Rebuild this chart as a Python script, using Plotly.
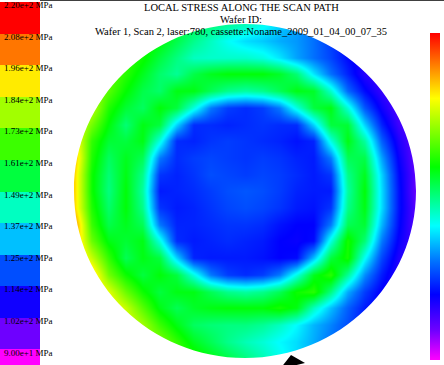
import plotly.graph_objects as go

W, H = 444, 365

# ---- data ----
legend_values = [220, 208, 196, 184, 173, 161, 149, 137, 125, 114, 102, 90]
legend_labels = ["2.20e+2 MPa", "2.08e+2 MPa", "1.96e+2 MPa", "1.84e+2 MPa",
                 "1.73e+2 MPa", "1.61e+2 MPa", "1.49e+2 MPa", "1.37e+2 MPa",
                 "1.25e+2 MPa", "1.14e+2 MPa", "1.02e+2 MPa", "9.00e+1 MPa"]

grid_u = [-1.0, -0.9, -0.8, -0.7, -0.6, -0.5, -0.4, -0.3, -0.2, -0.1, 0.0,
          0.1, 0.2, 0.3, 0.4, 0.5, 0.6, 0.7, 0.8, 0.9, 1.0]
grid_v = [1.0, 0.9, 0.8, 0.7, 0.6, 0.5, 0.4, 0.3, 0.2, 0.1, 0.0,
          -0.1, -0.2, -0.3, -0.4, -0.5, -0.6, -0.7, -0.8, -0.9, -1.0]

# stress (MPa), rows from top of wafer (v=1) to bottom (v=-1)
stress = [
    [175,173,171,169,167,165,162,159,156,153,150,145,139,134,129,125,120,117,114,111,108],
    [177,175,173,171,169,166,160,154,149,144,140,138,135,133,129,123,118,115,111,108,107],
    [180,178,175,173,168,161,155,149,148,148,148,146,141,134,129,124,117,112,108,107,107],
    [183,181,178,171,164,157,153,160,164,166,166,166,163,156,141,129,120,111,107,107,106],
    [186,184,176,167,160,157,165,165,159,154,152,154,159,165,163,148,128,117,109,106,105],
    [189,187,170,162,158,166,161,146,130,123,121,123,130,146,161,165,147,126,114,105,105],
    [193,179,166,156,165,161,139,121,121,120,121,122,121,121,139,161,162,139,120,108,104],
    [197,172,162,161,165,146,121,120,122,123,122,121,120,118,120,146,165,152,127,112,103],
    [201,170,158,164,159,130,121,123,124,123,122,123,122,120,119,130,159,160,134,115,102],
    [198,168,156,165,154,122,120,122,125,124,123,124,123,121,119,122,154,164,139,117,103],
    [198,168,155,166,152,119,120,121,123,125,126,125,123,120,119,119,152,166,140,118,102],
    [198,170,157,166,154,122,119,120,122,124,125,124,122,119,118,122,154,165,140,118,104],
    [206,173,160,164,159,130,120,120,121,122,122,121,118,116,116,130,159,162,136,117,104],
    [204,178,165,162,165,146,121,119,120,121,120,119,116,115,117,146,169,156,130,115,106],
    [203,188,172,159,165,161,139,120,119,119,119,118,116,117,137,161,169,144,124,112,107],
    [201,200,179,168,161,166,161,146,130,123,121,123,130,146,164,171,153,132,119,110,109],
    [200,199,191,178,168,161,165,165,159,154,152,154,159,168,171,155,135,123,115,111,110],
    [198,197,196,188,176,165,159,163,165,166,166,166,169,165,149,137,127,119,114,113,112],
    [197,196,195,192,184,173,165,158,156,155,155,153,149,143,136,131,125,118,115,114,113],
    [196,195,192,189,185,181,172,164,159,154,150,147,143,140,135,129,125,122,118,115,114],
    [195,192,190,186,183,179,174,170,165,160,155,150,145,140,136,131,127,124,120,117,115],
]

title_lines = ["LOCAL STRESS ALONG THE SCAN PATH", "Wafer ID:",
               "Wafer 1, Scan 2, laser:780, cassette:Noname_2009_01_04_00_07_35"]

ZMIN, ZMAX = 90, 220
colorscale = [
    [0.00, "#ff00ff"],
    [0.09, "#7000ff"],
    [0.20, "#0000ff"],
    [0.30, "#0070ff"],
    [0.41, "#00ffff"],
    [0.59, "#00ff00"],
    [0.80, "#ffff00"],
    [0.90, "#ff8000"],
    [1.00, "#ff0000"],
]

# geometry (pixels)
CX, CY, RX, RY = 245, 191, 171, 167
ROW0 = 17.8   # pixel centre of first legend block
ROWH = 31.6   # pixel height of a legend block

fig = go.Figure()

fig.add_trace(go.Heatmap(
    x=grid_u, y=grid_v[::-1], z=stress[::-1],
    zsmooth="best", colorscale=colorscale, zmin=ZMIN, zmax=ZMAX,
    hoverinfo="skip",
    colorbar=dict(x=430 / W, xanchor="left", y=1 - 33 / H, yanchor="top",
                  len=327, lenmode="pixels", thickness=10, thicknessmode="pixels",
                  outlinewidth=0, showticklabels=False, ticks="", xpad=0, ypad=0),
))

fig.add_trace(go.Heatmap(
    x=[0], y=list(range(len(legend_values))), z=[[v] for v in legend_values],
    xaxis="x2", yaxis="y2", showscale=False, colorscale=colorscale,
    zmin=ZMIN, zmax=ZMAX, hoverinfo="skip",
))

k = 0.5523
circle = (f"M 1,0 C 1,{k} {k},1 0,1 C {-k},1 -1,{k} -1,0 "
          f"C -1,{-k} {-k},-1 0,-1 C {k},-1 1,{-k} 1,0 Z")
outer = "M -1.06,-1.08 L 1.06,-1.08 L 1.06,1.06 L -1.06,1.06 Z"

shapes = [
    dict(type="path", xref="x", yref="y", path=outer + " " + circle,
         fillcolor="white", fillrule="evenodd", line=dict(width=0), layer="above"),
    dict(type="line", xref="paper", yref="paper", x0=40 / W, x1=1,
         y0=1 - 0.5 / H, y1=1 - 0.5 / H, line=dict(color="#404040", width=1)),
    dict(type="path", xref="paper", yref="paper",
         path=f"M {291/W},{1-355/H} L {305/W},{1-363/H} L {280/W},{1-369/H} Z",
         fillcolor="black", line=dict(width=0), layer="above"),
]

annotations = []
for i, yc in enumerate([7.5, 19.5, 31.5]):
    annotations.append(dict(text=title_lines[i], xref="paper", yref="paper",
                            x=241 / W, y=1 - yc / H, xanchor="center", yanchor="middle",
                            showarrow=False,
                            font=dict(family="Liberation Serif", size=10.5, color="black")))
for i, lab in enumerate(legend_labels):
    yc = 5 + ROWH * i
    annotations.append(dict(text=lab, xref="paper", yref="paper",
                            x=1.5 / W, y=1 - yc / H, xanchor="left", yanchor="middle",
                            showarrow=False,
                            font=dict(family="Liberation Serif", size=9, color="black")))

fig.update_layout(
    width=W, height=H, margin=dict(l=0, r=0, t=0, b=0),
    paper_bgcolor="white", plot_bgcolor="white", showlegend=False,
    xaxis=dict(domain=[0, 1], range=[-CX / RX, (W - CX) / RX], visible=False),
    yaxis=dict(domain=[0, 1], range=[-(H - CY) / RY, CY / RY], visible=False),
    xaxis2=dict(domain=[0, 40 / W], range=[-0.5, 0.5], visible=False, anchor="y2"),
    yaxis2=dict(domain=[0, 1], range=[(H - ROW0) / ROWH, -ROW0 / ROWH],
                visible=False, anchor="x2"),
    shapes=shapes, annotations=annotations,
)

fig.write_html("out.html")
